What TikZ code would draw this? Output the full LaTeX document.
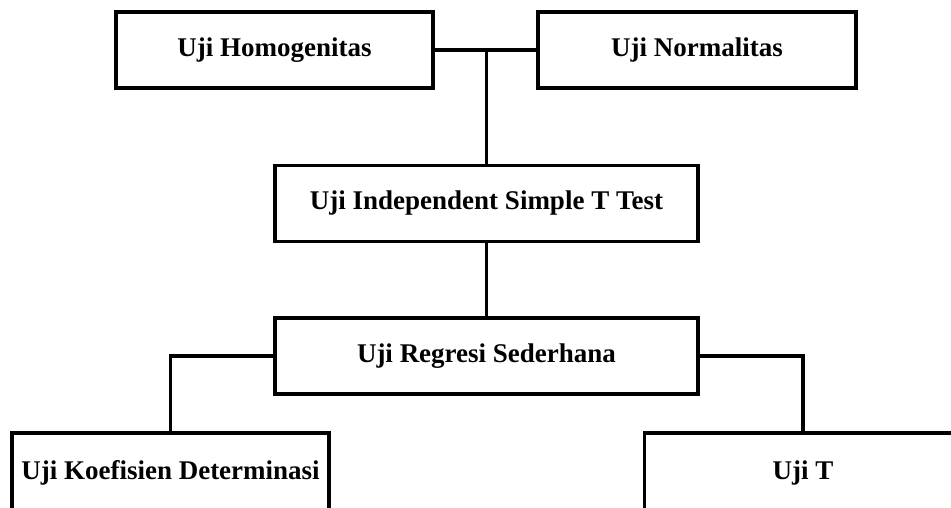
\documentclass[tikz,border=0pt]{standalone}
\usepackage{fontspec}
\setmainfont{Liberation Serif}
\usetikzlibrary{positioning}

\begin{document}
\begin{tikzpicture}[
  box/.style={
    rectangle, draw=black, line width=3.3pt, fill=white,
    minimum width=#1, minimum height=76pt, inner sep=0pt,
    font=\bfseries\fontsize{27}{32}\selectfont, align=center,
  },
  link/.style={draw=black, line width=3.3pt},
  x=1pt, y=-1pt,
]

\useasboundingbox (0,0) rectangle (951,507);
\clip (0,0) rectangle (951,507);

\node[box=317pt] at (274.5,50)  (homog)   {Uji Homogenitas};
\node[box=318pt] at (697,50)    (normal)  {Uji Normalitas};
\node[box=423pt] at (486.5,203.5) (indep) {Uji Independent Simple T Test};
\node[box=423pt] at (486.5,356) (regresi) {Uji Regresi Sederhana};

% bottom row, cut off by the page edge
\node[box=317pt, minimum height=80pt] at (170.5,473) (koef) {Uji Koefisien Determinasi};
\node[box=317pt, minimum height=80pt] at (803,473)   (ujit) {Uji T};

\draw[link] (homog.east) -- (normal.west);
\draw[link] (indep.north) -- (indep.north |- homog.east);
\draw[link] (indep) -- (regresi);
\draw[link] (regresi.west) -| (koef.north);
\draw[link] (regresi.east) -| (ujit.north);

\end{tikzpicture}
\end{document}
